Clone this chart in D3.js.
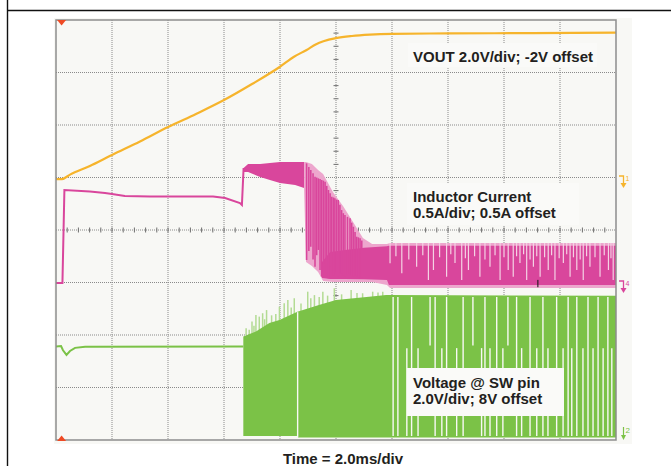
<!DOCTYPE html>
<html><head><meta charset="utf-8">
<script src="https://cdn.jsdelivr.net/npm/d3@7"></script>
<style>body{margin:0;background:#fff}svg{display:block}</style>
</head><body>
<script>
// ---------- channel settings (centre offset, units per division) ----------
const chVout = {offset: -2, perDiv: 2};
const chIL   = {offset: 0.5, perDiv: 0.5};
const chSW   = {offset: 8, perDiv: 2};
const timePerDiv = 2; // ms
const timeDivs = 10, vertDivs = 8;

// ---------- VOUT (t ms, V) ----------
const voutTrace = [[0,-0.06],[0.21,-0.06],[0.5,0.11],[1.21,0.44],[2.0,0.86],[3.0,1.37],[4.0,1.92],[5.0,2.42],[6.0,2.95],[7.0,3.56],[8.0,4.22],[8.5,4.6],[8.95,4.86],[9.29,5.08],[9.55,5.19],[10.0,5.31],[10.57,5.39],[11.21,5.44],[12.0,5.47],[14.0,5.49],[17.0,5.5],[20.0,5.52]];

// ---------- Inductor current (t ms, A) ----------
const ilStartup = [[0,-0.005],[0.23,-0.005],[0.30,0.88],[1.21,0.867],[1.75,0.852],[2.0,0.843],[2.46,0.824],[3.36,0.819],[5.61,0.819],[6.04,0.805],[6.57,0.757],[6.64,0.738],[6.70,1.09]];
// [t, low, high]
const ilBand = [[6.70,1.052,1.090],[6.86,1.052,1.129],[7.29,1.005,1.129],[7.64,0.976,1.138],[8.0,0.948,1.148],[8.54,0.929,1.148],[8.86,0.900,1.148]];
const ilOuter = [[8.86,0.881,1.148],[8.93,0.195,1.148],[9.14,0.157,1.129],[9.36,0.100,1.071],[9.54,0.014,1.033],[9.89,0.005,0.862],[10.25,0.005,0.729],[10.61,0.005,0.576],[10.96,0.005,0.424],[11.29,0.005,0.367],[11.82,-0.024,0.367],[11.93,-0.052,0.376],[20.0,-0.052,0.376]];
const ilCore = [[9.5,0.043,0.195],[9.79,0.033,0.290],[10.32,0.033,0.31],[11.0,0.030,0.33],[11.82,0.024,0.345],[11.89,-0.024,0.35],[20.0,-0.024,0.35]];
const ilStripes = [[8.95,0.214,1.135],[9.03,0.30,1.10],[9.10,0.341,1.071],[9.18,0.22,1.04],[9.25,0.150,1.008],[9.31,0.26,1.0],[9.37,0.310,0.992],[9.43,0.12,0.985],[9.49,0.055,0.976],[9.55,0.18,0.97],[9.61,0.214,0.960],[9.67,0.09,0.92],[9.73,0.040,0.881],[9.79,0.15,0.85],[9.85,0.119,0.817],[9.91,0.07,0.81],[9.96,0.088,0.802],[10.02,0.10,0.79],[10.08,0.055,0.786],[10.14,0.09,0.74],[10.20,0.088,0.690],[10.26,0.07,0.66],[10.32,0.055,0.643],[10.41,0.08,0.625],[10.50,0.071,0.611],[10.56,0.06,0.57],[10.62,0.055,0.531],[10.68,0.06,0.48],[10.74,0.055,0.436],[10.80,0.05,0.43],[10.86,0.040,0.421],[10.92,0.05,0.40]];
// [t, bottom of gap] (gap runs from the top of the band)
const ilGaps = [[11.93,0.183],[12.14,0.25],[12.35,0.088],[12.6,0.22],[12.88,0.150],[13.10,0.26],[13.30,0.024],[13.48,0.119],[13.70,0.24],[13.95,0.055],[14.10,0.27],[14.25,0.186],[14.49,0.024],[14.62,0.23],[14.73,0.119],[14.95,0.25],[15.14,0.055],[15.32,0.22],[15.50,0.150],[15.68,0.26],[15.86,0.024],[16.0,0.24],[16.15,0.119],[16.33,0.055],[16.45,0.25],[16.57,0.186],[16.70,0.27],[16.81,0.024],[16.93,0.22],[17.05,0.150],[17.17,0.25],[17.29,0.055],[17.45,0.24],[17.58,0.119],[17.70,0.26],[17.82,0.024],[17.97,0.23],[18.12,0.186],[18.24,0.27],[18.36,0.055],[18.48,0.24],[18.60,0.119],[18.72,0.22],[18.83,0.024],[18.95,0.25],[19.07,0.150],[19.25,0.24],[19.43,0.055],[19.58,0.26],[19.73,0.119],[19.82,0.23],[19.90,0.024]];
const ilCursor = [[17.21,-0.045,0.025]];

// ---------- SW pin voltage (t ms, V) ----------
const swIdle = [[0,3.56],[0.18,3.58],[0.25,3.42],[0.375,3.24],[0.5,3.39],[0.68,3.51],[1.04,3.55],[6.69,3.56]];
const swBand = [[6.69,0.15,3.94],[7.14,0.15,4.13],[7.62,0.15,4.46],[7.98,0.15,4.57],[8.62,0.15,4.89],[8.65,0.095,4.90],[9.39,0.095,5.14],[10.0,0.095,5.33],[11.18,0.095,5.46],[11.79,0.095,5.52],[20.0,0.095,5.50]];
const swSpikes = [[6.79,4.26],[6.9,4.2],[7.0,4.51],[7.07,4.35],[7.14,4.76],[7.26,4.70],[7.38,4.83],[7.45,4.6],[7.52,4.95],[7.7,4.75],[7.85,4.8],[7.98,5.08],[8.15,5.21],[8.28,5.33],[8.4,5.05],[8.51,5.40],[8.75,5.2],[8.99,5.65],[9.1,5.4],[9.23,5.52],[9.4,5.45],[9.53,5.65],[9.7,5.5],[9.94,5.78],[10.2,5.55],[10.54,5.71],[10.75,5.6],[10.95,5.59],[11.31,5.65],[11.5,5.62],[11.67,5.65]];
// [t, high, low]
const swGaps = [[8.63,4.87,0.10],[12.04,5.45,0.15],[12.21,5.45,0.15],[12.53,3.5,0.15],[12.70,5.45,0.15],[12.93,3.5,0.15],[13.36,5.45,3.6],[13.54,5.45,0.15],[13.78,3.5,0.15],[13.95,5.45,0.15],[14.31,3.5,0.15],[14.54,5.45,0.15],[14.89,5.45,3.6],[15.20,3.5,0.15],[15.32,5.45,0.15],[15.50,3.5,0.15],[15.74,5.45,0.15],[15.96,3.5,0.15],[16.14,5.45,3.6],[16.45,5.45,0.15],[16.63,3.5,0.15],[16.93,5.45,0.15],[17.17,3.5,0.15],[17.39,5.45,0.15],[17.57,3.5,0.15],[17.88,5.45,0.15],[18.11,3.5,0.15],[18.29,5.45,0.15],[18.42,3.5,0.15],[18.60,5.45,0.15],[18.82,3.5,0.15],[19.00,5.45,0.15],[19.18,3.5,0.15],[19.36,5.45,0.15],[19.54,3.5,0.15],[19.71,5.45,0.15],[19.85,3.5,0.15]];

// ---------- texts ----------
const voutLabel = ["VOUT 2.0V/div; -2V offset"];
const ilLabel = ["Inductor Current", "0.5A/div; 0.5A offset"];
const swLabel = ["Voltage @ SW pin", "2.0V/div; 8V offset"];
const timeLabel = "Time = 2.0ms/div";
const chMarks = ["1", "4", "2"];
const triggerTime = 0.2;

// ---------- drawing ----------
const W = 671, H = 466;
const L = 56, R = 616, T = 20, B = 440;
const C = {vout:"#f6b42c", il:"#d9469c", ilLight:"#eda6cd", sw:"#7bc247", swLight:"#b3db93", gap:"#f8f8f5"};

const svg = d3.select("body").append("svg").attr("width", W).attr("height", H);
const x = d3.scaleLinear().domain([0, timeDivs*timePerDiv]).range([L, R]);
const yDiv = d3.scaleLinear().domain([0, vertDivs]).range([B, T]);
const chScale = ch => d3.scaleLinear().domain([ch.offset - 4*ch.perDiv, ch.offset + 4*ch.perDiv]).range([B, T]);
const yV = chScale(chVout), yI = chScale(chIL), yS = chScale(chSW);

// page frame
svg.append("line").attr("x1",7).attr("x2",W).attr("y1",10.5).attr("y2",10.5).attr("stroke","#111").attr("stroke-width",1.4);
svg.append("line").attr("x1",7.5).attr("x2",7.5).attr("y1",0).attr("y2",H).attr("stroke","#111").attr("stroke-width",1.4);

// screen background
svg.append("rect").attr("x",54).attr("y",18).attr("width",578).attr("height",426).attr("fill","#f8f8f5");

// grid
const grid = svg.append("g").attr("stroke","#8a8a8a").attr("stroke-width",1).attr("stroke-dasharray","1,1");
d3.range(1, timeDivs).forEach(i => {
  const xv = x(i*timePerDiv);
  grid.append("line").attr("x1",xv).attr("x2",xv).attr("y1",T).attr("y2",B);
});
d3.range(1, vertDivs).forEach(j => {
  grid.append("line").attr("x1",L).attr("x2",R).attr("y1",yDiv(j)).attr("y2",yDiv(j));
});
// centre-line minor ticks
const tk = svg.append("g").attr("stroke","#6e6e6e").attr("stroke-width",1);
d3.range(1, timeDivs*5).forEach(k => {
  const xv = x(k*timePerDiv/5);
  tk.append("line").attr("x1",xv).attr("x2",xv).attr("y1",yDiv(4)-2.5).attr("y2",yDiv(4)+2.5);
});
d3.range(1, vertDivs*4).forEach(k => {
  if (k % 4 === 0) return;
  const yv = yDiv(k/4);
  tk.append("line").attr("x1",x(10)-2.5).attr("x2",x(10)+2.5).attr("y1",yv).attr("y2",yv);
});

// ---- SW voltage (green) ----
const line = (ys) => d3.line().x(d => x(d[0])).y(d => ys(d[1]));
const area = (ys) => d3.area().x(d => x(d[0])).y0(d => ys(d[1])).y1(d => ys(d[2]));

svg.append("path").datum(swIdle).attr("d", line(yS)).attr("fill","none").attr("stroke",C.sw).attr("stroke-width",2);
svg.append("g").selectAll("line").data(swSpikes).join("line")
  .attr("x1", d => x(d[0])).attr("x2", d => x(d[0]))
  .attr("y1", d => yS(4.0)).attr("y2", d => yS(d[1]))
  .attr("stroke", C.swLight).attr("stroke-width",1.5);
svg.append("path").datum(swBand).attr("d", area(yS)).attr("fill", C.sw);
svg.append("g").selectAll("line").data(swGaps).join("line")
  .attr("x1", d => x(d[0])).attr("x2", d => x(d[0]))
  .attr("y1", d => yS(d[1])).attr("y2", d => yS(d[2]))
  .attr("stroke", C.gap).attr("stroke-width",1.4);

// ---- VOUT (orange) ----
svg.append("path").datum(voutTrace).attr("d", line(yV).curve(d3.curveMonotoneX)).attr("fill","none").attr("stroke",C.vout).attr("stroke-width",2.2);

// ---- Inductor current (magenta) ----
svg.append("path").datum(ilStartup).attr("d", line(yI)).attr("fill","none").attr("stroke",C.il).attr("stroke-width",2);
svg.append("path").datum(ilBand).attr("d", area(yI)).attr("fill", C.il);
svg.append("path").datum(ilOuter).attr("d", area(yI)).attr("fill", C.ilLight);
svg.append("path").datum(ilCore).attr("d", area(yI)).attr("fill", C.il);
svg.append("g").selectAll("line").data(ilStripes).join("line")
  .attr("x1", d => x(d[0])).attr("x2", d => x(d[0]))
  .attr("y1", d => yI(d[1])).attr("y2", d => yI(d[2]))
  .attr("stroke", C.il).attr("stroke-width",1.6);
svg.append("g").selectAll("line").data(ilGaps).join("line")
  .attr("x1", d => x(d[0])).attr("x2", d => x(d[0]))
  .attr("y1", d => yI(0.376)).attr("y2", d => yI(d[1]))
  .attr("stroke", "#f4d2e4").attr("stroke-width",1.2);
svg.append("g").selectAll("line").data(ilCursor).join("line")
  .attr("x1", d => x(d[0])).attr("x2", d => x(d[0]))
  .attr("y1", d => yI(d[1])).attr("y2", d => yI(d[2]))
  .attr("stroke", "#111").attr("stroke-width",1);

// screen border
svg.append("rect").attr("x",L).attr("y",T).attr("width",R-L).attr("height",B-T).attr("fill","none").attr("stroke","#8d8d8d").attr("stroke-width",1.5);

// trigger markers
const trigX = x(triggerTime);
svg.append("path").attr("d",`M${trigX-4.5},${T} L${trigX+4.5},${T} L${trigX},${T+5.5} Z`).attr("fill","#ef4a24");
svg.append("path").attr("d",`M${trigX-4.5},${B+1} L${trigX+4.5},${B+1} L${trigX},${B-4.5} Z`).attr("fill","#ef4a24");

// channel ground markers
function gndMark(yv, color, label) {
  const g = svg.append("g");
  g.append("path").attr("d",`M619,${yv-4} H623.5 V${yv+4}`).attr("fill","none").attr("stroke",color).attr("stroke-width",1.3);
  g.append("path").attr("d",`M620.5,${yv+3} L626.5,${yv+3} L623.5,${yv+8} Z`).attr("fill",color);
  g.append("text").attr("x",625.5).attr("y",yv+1).attr("font-size",7).attr("font-family","Liberation Sans, Arial, sans-serif").attr("fill",color).text(label);
}
gndMark(yV(0)+2.5, C.vout, chMarks[0]);
gndMark(yI(0)+2.5, C.il, chMarks[1]);
{
  const g = svg.append("g");
  g.append("line").attr("x1",623.5).attr("x2",623.5).attr("y1",427).attr("y2",437).attr("stroke",C.sw).attr("stroke-width",1.2);
  g.append("path").attr("d","M621,435 L626,435 L623.5,440 Z").attr("fill",C.sw);
  g.append("text").attr("x",625.5).attr("y",433).attr("font-size",8).attr("font-family","Liberation Sans, Arial, sans-serif").attr("fill",C.sw).text(chMarks[2]);
}

// labels
const font = "'Liberation Sans', Arial, Helvetica, sans-serif";
function labelBox(bx, by, bw, bh, lines, tx, ty0, lh) {
  svg.append("rect").attr("x",bx).attr("y",by).attr("width",bw).attr("height",bh).attr("fill","#fafaf8");
  lines.forEach((s, i) => svg.append("text").attr("x",tx).attr("y",ty0 + i*lh)
    .attr("font-family",font).attr("font-weight","bold").attr("font-size",15).attr("fill","#231f20").text(s));
}
labelBox(408, 43, 189, 24, voutLabel, 413, 62, 0);
labelBox(407, 183, 172, 42, ilLabel, 413, 202, 15.6);
labelBox(407, 368, 157, 48, swLabel, 413, 387.5, 16);

svg.append("text").attr("x",343).attr("y",463.5).attr("text-anchor","middle")
  .attr("font-family",font).attr("font-weight","bold").attr("font-size",15).attr("fill","#231f20").text(timeLabel);
</script>
</body></html>
